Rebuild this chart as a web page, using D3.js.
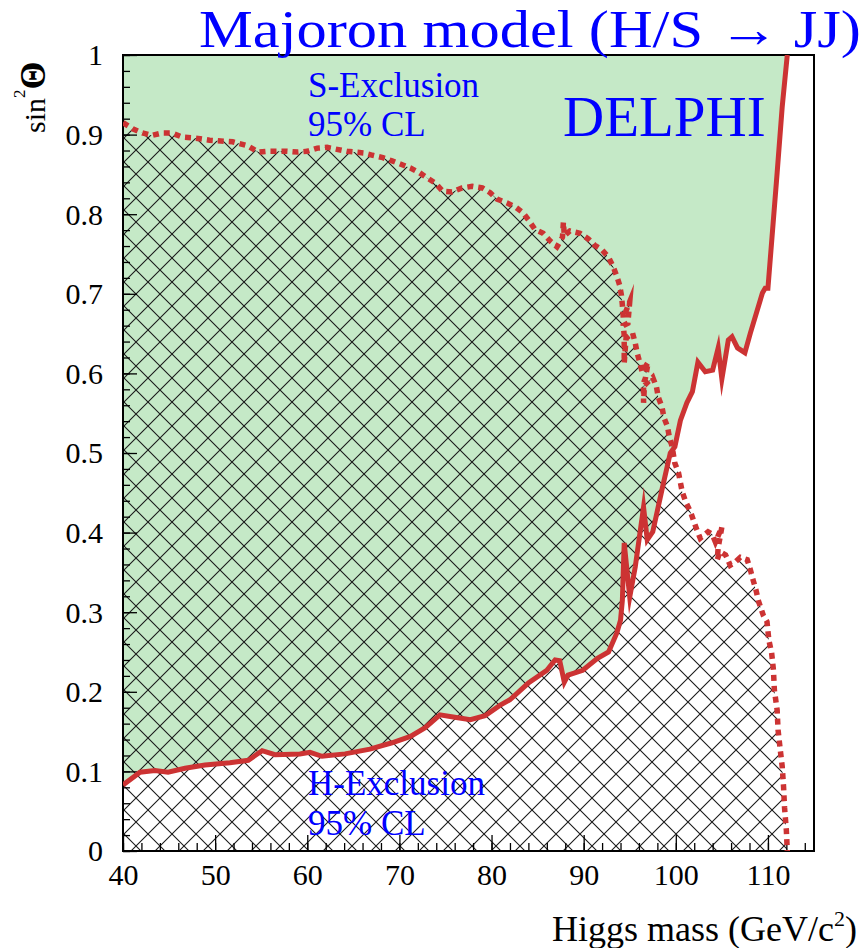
<!DOCTYPE html>
<html>
<head>
<meta charset="utf-8">
<script src="https://cdn.jsdelivr.net/npm/d3@7"></script>
<style>
  html, body { margin: 0; padding: 0; background: #fff; }
  svg { display: block; }
  text { font-family: "Liberation Serif", "Times New Roman", serif; }
</style>
</head>
<body>
<svg id="chart" width="867" height="948"></svg>
<script>
// H-exclusion limit at 95% CL: [Higgs mass (GeV/c^2), sin^2 Theta]
const hExclusion = [
  [40, 0.083], [41.85, 0.099], [43.47, 0.101], [44.89, 0.099], [46.73, 0.104],
  [48.9, 0.108], [51.6, 0.111], [53.6, 0.114], [55.1, 0.126], [56.5, 0.121],
  [59.2, 0.122], [60.3, 0.124], [61.6, 0.119], [64.1, 0.122], [66.8, 0.128],
  [69.2, 0.136], [71.2, 0.144], [72.8, 0.155], [74.4, 0.171], [76.0, 0.168],
  [77.7, 0.165], [79.3, 0.17], [80.9, 0.183], [82.0, 0.19], [84.0, 0.211],
  [86.0, 0.227], [86.9, 0.24], [87.4, 0.239], [87.9, 0.212], [88.3, 0.221],
  [89.9, 0.227], [91.5, 0.242], [92.7, 0.25], [93.6, 0.274], [94.0, 0.29],
  [94.2, 0.315], [94.4, 0.387], [95.0, 0.319], [95.6, 0.357], [96.5, 0.432],
  [96.9, 0.391], [97.5, 0.401], [98.5, 0.454], [99.4, 0.5], [99.9, 0.508],
  [100.5, 0.541], [101.2, 0.563], [101.8, 0.577], [102.4, 0.614], [103.2, 0.602],
  [104.0, 0.604], [104.6, 0.632], [105.0, 0.593], [105.7, 0.642], [106.1, 0.646],
  [106.7, 0.632], [107.5, 0.626], [108.1, 0.651], [109.4, 0.701], [109.7, 0.707],
  [110.0, 0.707], [111.0, 0.852], [111.55, 0.935], [112.1, 1.0]
];

// S-exclusion limit at 95% CL: [Higgs mass (GeV/c^2), sin^2 Theta]
const sExclusion = [
  [40.0, 0.915], [41.1, 0.907], [42.1, 0.902], [43.15, 0.899], [44.2, 0.902],
  [45.3, 0.902], [46.4, 0.897], [47.6, 0.896], [49.4, 0.893], [51.9, 0.891],
  [53.5, 0.886], [54.7, 0.878], [55.6, 0.879], [57.8, 0.879], [58.9, 0.878],
  [60.0, 0.879], [61.1, 0.883], [62.15, 0.884], [64.3, 0.879], [66.1, 0.877],
  [67.1, 0.874], [68.2, 0.871], [69.2, 0.867], [70.1, 0.863], [71.2, 0.858],
  [72.2, 0.852], [73.1, 0.845], [73.9, 0.839], [74.7, 0.829], [75.7, 0.828],
  [76.8, 0.833], [77.9, 0.835], [79.0, 0.833], [79.85, 0.827], [80.6, 0.819],
  [81.7, 0.814], [82.6, 0.809], [83.4, 0.802], [84.0, 0.793], [84.7, 0.781],
  [85.6, 0.776], [86.4, 0.766], [87.1, 0.759], [87.7, 0.771], [87.8, 0.79],
  [87.9, 0.773], [88.5, 0.779], [89.6, 0.776], [90.5, 0.769], [91.2, 0.761],
  [92.0, 0.755], [92.7, 0.746], [93.2, 0.734], [93.6, 0.722], [93.9, 0.711],
  [94.1, 0.698], [94.2, 0.686], [94.3, 0.67], [95.0, 0.69], [94.8, 0.663],
  [94.3, 0.66], [94.4, 0.648], [94.4, 0.613], [94.6, 0.644], [95.3, 0.651],
  [95.6, 0.638], [95.8, 0.626], [96.1, 0.613], [96.35, 0.602], [97.0, 0.614],
  [96.7, 0.594], [96.5, 0.588], [96.5, 0.563], [96.6, 0.585], [97.5, 0.595],
  [97.9, 0.583], [98.1, 0.57], [98.5, 0.558], [98.7, 0.545], [99.1, 0.533],
  [99.3, 0.52], [99.6, 0.508], [99.9, 0.487], [100.3, 0.475], [100.7, 0.451],
  [101.1, 0.438], [101.6, 0.426], [101.9, 0.416], [102.3, 0.403], [102.65, 0.393],
  [103.5, 0.401], [103.95, 0.398], [104.3, 0.388], [105.0, 0.407], [104.6, 0.381],
  [104.5, 0.366], [104.8, 0.376], [105.4, 0.372], [105.9, 0.359], [106.45, 0.363],
  [107.0, 0.369], [107.75, 0.366], [108.1, 0.353], [108.4, 0.34], [108.7, 0.328],
  [108.95, 0.315], [109.5, 0.296], [109.9, 0.288], [110.1, 0.265], [110.4, 0.249],
  [110.6, 0.227], [110.7, 0.202], [111.0, 0.177], [111.1, 0.152], [111.3, 0.131],
  [111.55, 0.106], [111.7, 0.08], [111.8, 0.055], [112.0, 0.026], [112.1, 0.0]
];

// Axis ticks
const xTicks = [40, 50, 60, 70, 80, 90, 100, 110];
const xTickLabels = ["40", "50", "60", "70", "80", "90", "100", "110"];
const xMinorTicks = d3.range(40, 115.01, 2);
const yTicks = [0, 0.1, 0.2, 0.3, 0.4, 0.5, 0.6, 0.7, 0.8, 0.9, 1];
const yTickLabels = ["0", "0.1", "0.2", "0.3", "0.4", "0.5", "0.6", "0.7", "0.8", "0.9", "1"];
const yMinorTicks = d3.range(0, 1.0001, 0.02);

const RED = "#cc3333";
const GREEN = "#c5e9c7";
const BLUE = "#0000ff";

const svg = d3.select("#chart");
const plotLeft = 123, plotRight = 814, plotTop = 55, plotBottom = 851;

const x = d3.scaleLinear().domain([40, 115]).range([plotLeft, plotRight]);
const y = d3.scaleLinear().domain([0, 1]).range([plotBottom, plotTop]);

const defs = svg.append("defs");
defs.append("clipPath").attr("id", "plot-clip")
  .append("rect").attr("x", plotLeft).attr("y", plotTop)
  .attr("width", plotRight - plotLeft).attr("height", plotBottom - plotTop);

// cross-hatch pattern for the S-excluded region
const hatch = defs.append("pattern")
  .attr("id", "hatch")
  .attr("patternUnits", "userSpaceOnUse")
  .attr("x", 16).attr("y", 6)
  .attr("width", 24).attr("height", 24);
hatch.append("path")
  .attr("d", "M-6,-6L30,30M-6,30L30,-6M-6,18L6,30M18,-6L30,6M-6,6L6,-6M18,30L30,18")
  .attr("stroke", "#1a1a1a").attr("stroke-width", 1.1).attr("fill", "none");

const plot = svg.append("g").attr("clip-path", "url(#plot-clip)");

const area = d3.line().x(d => x(d[0])).y(d => y(d[1]));

// green region above the H-exclusion curve
plot.append("path")
  .attr("d", area(hExclusion.concat([[40, 1]])) + "Z")
  .attr("fill", GREEN);

// hatched region below the S-exclusion curve
plot.append("path")
  .attr("d", area(sExclusion.concat([[40, 0]])) + "Z")
  .attr("fill", "url(#hatch)");

// axes: ticks point inward
const xAxis = svg.append("g").attr("transform", `translate(0,${plotBottom})`)
  .call(d3.axisBottom(x).tickValues(xTicks).tickSize(-16)
    .tickFormat((d, i) => xTickLabels[i]));
const xMinor = svg.append("g").attr("transform", `translate(0,${plotBottom})`)
  .call(d3.axisBottom(x).tickValues(xMinorTicks).tickSize(-8).tickFormat(""));
const yAxis = svg.append("g").attr("transform", `translate(${plotLeft},0)`)
  .call(d3.axisLeft(y).tickValues(yTicks).tickSize(-14)
    .tickFormat((d, i) => yTickLabels[i]));
const yMinor = svg.append("g").attr("transform", `translate(${plotLeft},0)`)
  .call(d3.axisLeft(y).tickValues(yMinorTicks).tickSize(-7).tickFormat(""));

[xAxis, xMinor, yAxis, yMinor].forEach(g => {
  g.select(".domain").remove();
  g.selectAll(".tick line").attr("stroke", "#000").attr("stroke-width", 1.3);
});
xAxis.selectAll(".tick text")
  .attr("y", 34).attr("dy", 0)
  .attr("font-family", "Liberation Serif").attr("font-size", 30).attr("fill", "#000");
yAxis.selectAll(".tick text")
  .attr("x", -20).attr("dy", "0.33em")
  .attr("font-family", "Liberation Serif").attr("font-size", 30).attr("fill", "#000");

// frame
svg.append("rect")
  .attr("x", plotLeft).attr("y", plotTop)
  .attr("width", plotRight - plotLeft).attr("height", plotBottom - plotTop)
  .attr("fill", "none").attr("stroke", "#000").attr("stroke-width", 2);

// limit curves
const lines = svg.append("g").attr("clip-path", "url(#plot-clip)");
lines.append("path")
  .attr("d", area(hExclusion))
  .attr("fill", "none").attr("stroke", RED).attr("stroke-width", 5)
  .attr("stroke-linejoin", "miter").attr("stroke-miterlimit", 12);
lines.append("path")
  .attr("d", area(sExclusion))
  .attr("fill", "none").attr("stroke", RED).attr("stroke-width", 5.5)
  .attr("stroke-dasharray", "6,5")
  .attr("stroke-linejoin", "miter").attr("stroke-miterlimit", 12);

// labels inside the plot
const label = (txt, px, py, size) => svg.append("text")
  .attr("x", px).attr("y", py).attr("font-size", size).attr("fill", BLUE).text(txt);
label("S-Exclusion", 308, 97, 35);
label("95% CL", 308, 136, 35);
label("H-Exclusion", 308, 795, 35);
label("95% CL", 308, 835, 35);
label("DELPHI", 563, 136, 57);

// title
svg.append("text")
  .attr("x", 199).attr("y", 47)
  .attr("font-size", 52).attr("fill", BLUE)
  .attr("textLength", 662).attr("lengthAdjust", "spacingAndGlyphs")
  .text("Majoron model (H/S \u2192 JJ)");

// axis titles
const yTitle = svg.append("text")
  .attr("transform", "translate(45,133) rotate(-90)")
  .attr("font-size", 30).attr("fill", "#000");
yTitle.append("tspan").text("sin");
yTitle.append("tspan").attr("font-size", 17).attr("dy", -20).text("2");
yTitle.append("tspan").attr("dy", 20).attr("font-size", 36).attr("font-weight", "bold").text("\u0398");

const xTitle = svg.append("text")
  .attr("x", 857).attr("y", 941)
  .attr("text-anchor", "end")
  .attr("font-size", 36).attr("fill", "#000");
xTitle.append("tspan").text("Higgs mass (GeV/c");
xTitle.append("tspan").attr("font-size", 22).attr("dy", -15).text("2");
xTitle.append("tspan").attr("dy", 15).text(")");
</script>
</body>
</html>
